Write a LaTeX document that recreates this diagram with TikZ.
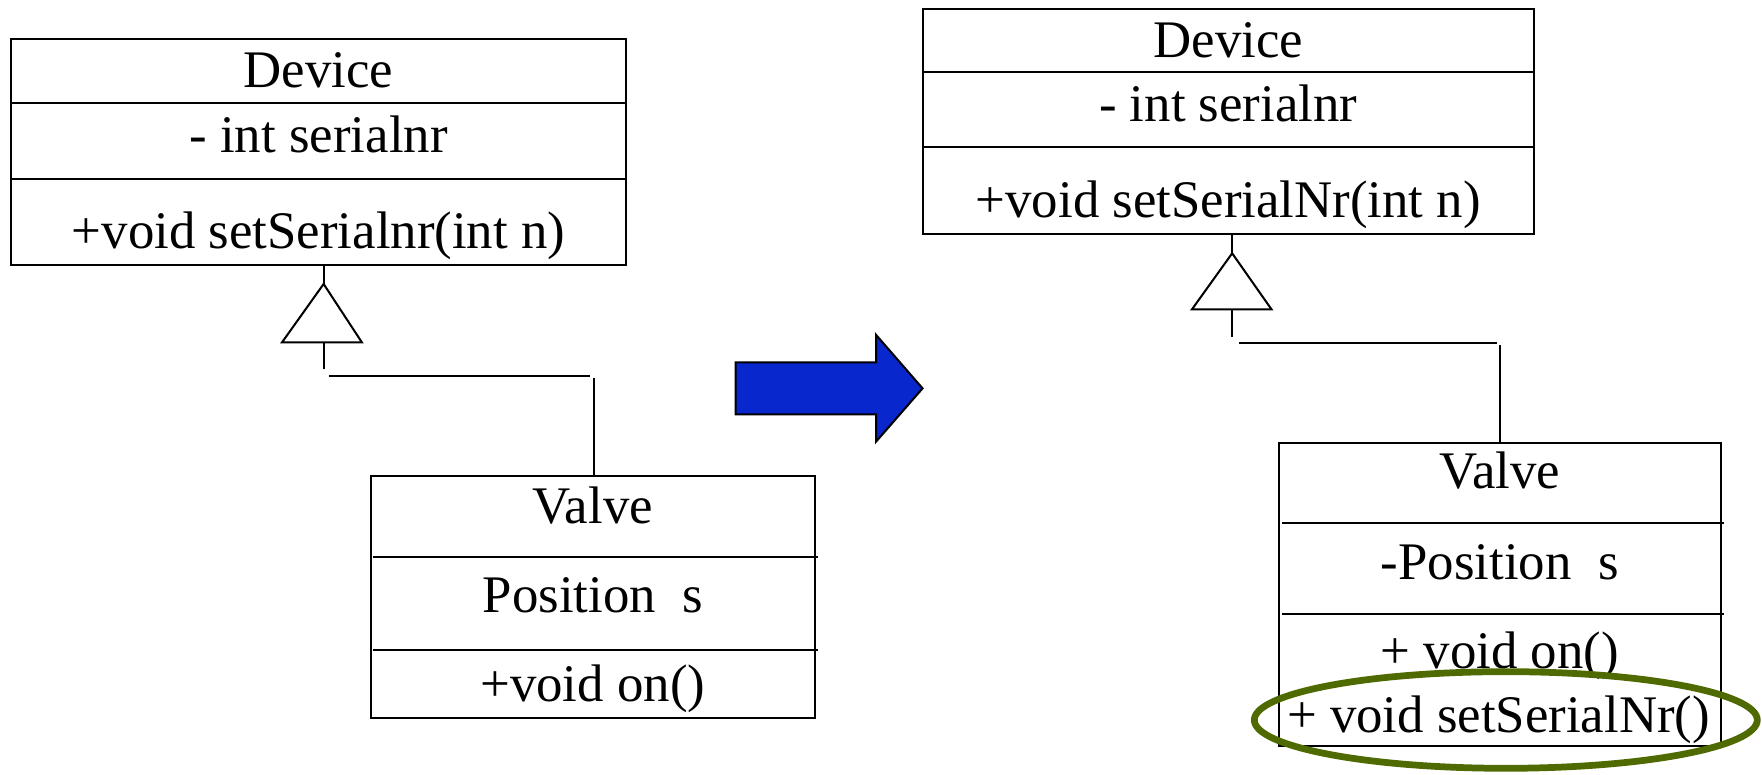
\documentclass[tikz,border=0pt]{standalone}
\usepackage{fontspec}
\setmainfont{Liberation Serif}
\usetikzlibrary{shapes.geometric}
\definecolor{arrowblue}{RGB}{8,40,206}
\definecolor{ringgreen}{RGB}{79,106,0}
\begin{document}
\begin{tikzpicture}[x=1pt,y=-1pt,line width=1.8pt,line join=miter,
  box/.style={draw,line width=1.8pt,inner sep=0pt,rectangle},
  txt/.style={font=\fontsize{47}{56}\selectfont,inner sep=0pt,anchor=base},
  gen/.style={draw,line width=1.8pt}]
\useasboundingbox (0,0) rectangle (1568,689);

% ---------------- left Device
\node[box,minimum width=547pt,minimum height=201pt] (dev1) at (283.5,135.5) {};
\draw (10,91.4) -- (557,91.4);
\draw (10,159) -- (557,159);
\node[txt] (dev1name) at (283.5,77.7) {Device};
\node[txt] (dev1attr) at (283.5,135.9) {- int serialnr};
\node[txt] (dev1op) at (283.5,221) {+void setSerialnr(int n)};

% ---------------- left Valve
\node[box,minimum width=395pt,minimum height=216pt] (val1) at (527.5,531.3) {};
\draw (332,495.4) -- (728,495.4);
\draw (332,578) -- (728,578);
\node[txt] (val1name) at (527.5,465.7) {Valve};
\node[txt] (val1attr) at (527.5,545) {Position\ \ s};
\node[txt] (val1op) at (527.5,624.4) {+void on()};

% ---------------- left generalization
\coordinate (t1apex) at (288,252.7);
\coordinate (t1l) at (251,304.6);
\coordinate (t1r) at (322,304.6);
\coordinate (t1base) at (288,304.6);
\coordinate (t1stem) at (288,328.7);
\coordinate (h1a) at (293,334.5);
\coordinate (h1b) at (525,334.5);
\coordinate (v1top) at (528.5,336);
\draw (t1apex |- dev1.south) -- (t1apex);
\draw (t1apex) -- (t1l) -- (t1r) -- cycle;
\draw (t1base) -- (t1stem);
\draw (h1a) -- (h1b);
\draw (v1top) -- (v1top |- val1.north);

% ---------------- blue arrow
\draw[fill=arrowblue,line width=1.8pt] (654.7,322.4) -- (779.6,322.4) -- (779.6,298) -- (821,345.6)
  -- (779.6,393) -- (779.6,368.7) -- (654.7,368.7) -- cycle;

% ---------------- right Device
\node[box,minimum width=544pt,minimum height=200.2pt] (dev2) at (1093,108.4) {};
\draw (821,63.8) -- (1365,63.8);
\draw (821,130.8) -- (1365,130.8);
\node[txt] (dev2name) at (1093,51) {Device};
\node[txt] (dev2attr) at (1093,108.3) {- int serialnr};
\node[txt] (dev2op) at (1093,193.4) {+void setSerialNr(int n)};

% ---------------- right Valve
\node[box,minimum width=393.8pt,minimum height=270pt] (val2) at (1334.7,529) {};
\draw (1141,465.7) -- (1534,465.7);
\draw (1141,546.7) -- (1534,546.7);
\node[txt] (val2name) at (1334.7,434.6) {Valve};
\node[txt] (val2attr) at (1334.7,515.6) {-Position\ \ s};
\node[txt] (val2op) at (1334.7,594.8) {+ void on()};
\node[txt] (val2op2) at (1333.5,652) {+ void setSerialNr()};

% ---------------- right generalization
\coordinate (t2apex) at (1096.5,225.4);
\coordinate (t2l) at (1060.7,275.3);
\coordinate (t2r) at (1131.5,275.3);
\coordinate (t2base) at (1096.5,275.3);
\coordinate (t2stem) at (1096.5,300.2);
\coordinate (h2a) at (1103,305.5);
\coordinate (h2b) at (1331.8,305.5);
\coordinate (v2top) at (1334.4,307);
\draw (t2apex |- dev2.south) -- (t2apex);
\draw (t2apex) -- (t2l) -- (t2r) -- cycle;
\draw (t2base) -- (t2stem);
\draw (h2a) -- (h2b);
\draw (v2top) -- (v2top |- val2.north);

% ---------------- highlight ellipse
\node[draw=ringgreen,line width=6pt,ellipse,inner sep=0pt,
  minimum width=447.6pt,minimum height=86pt] (ring) at (1340,640.7) {};
\end{tikzpicture}
\end{document}
